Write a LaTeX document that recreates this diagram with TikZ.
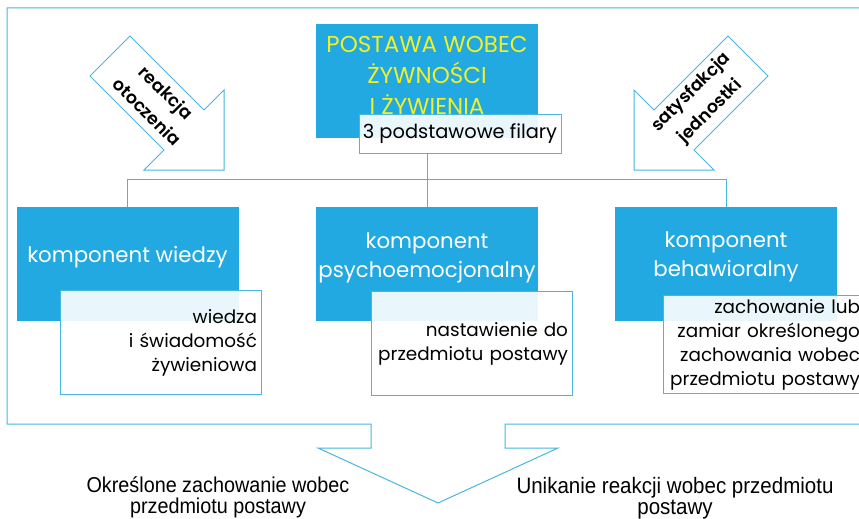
\documentclass[tikz,border=0pt]{standalone}
\usepackage{fontspec}
\setmainfont{Poppins}[BoldFont={Poppins SemiBold}]
\newfontfamily\arialfont[FakeStretch=0.92]{Liberation Sans}
\usetikzlibrary{positioning}

\definecolor{boxblue}{RGB}{34,169,225}
\definecolor{lineblue}{RGB}{72,182,222}
\definecolor{titleyellow}{RGB}{240,240,40}

\tikzset{
  frame/.style={draw=lineblue,line width=1pt},
  sidearrow/.style={draw=lineblue,line width=1pt,fill=white},
  bluebox/.style={fill=boxblue,minimum width=222pt,minimum height=114pt,inner sep=0pt},
  bluetext/.style={text=white,align=center,font=\fontsize{21.3}{29}\selectfont},
  notebox/.style={draw=lineblue,line width=1pt,fill=white,fill opacity=0.9,text opacity=1,
    text width=193pt,align=right,inner xsep=4pt,minimum height=104pt,
    font=\fontsize{18.4}{24}\selectfont},
  arrowtext/.style={align=center,font=\bfseries\fontsize{17.5}{27}\selectfont},
  outtext/.style={align=center,font=\arialfont\fontsize{21.5}{21.5}\selectfont}
}

\begin{document}
\begin{tikzpicture}[x=1pt,y=-1pt]
    \useasboundingbox (0,0) rectangle (859,519);
    % draw the outer frame with the arrow at the bottom
    \draw[frame] (875,8) -- (7,8) -- (7,424) -- (371,424) -- (371,448) -- (318,448)
        -- (438,503) -- (558,448) -- (505,448) -- (505,424) -- (875,424);
    % draw the two side arrows
    \draw[sidearrow] (130,36) -- (204,110) -- (224,90) -- (224,170) -- (144,170)
        -- (164,150) -- (90,76) -- cycle;
    \draw[sidearrow] (728,36) -- (654,110) -- (634,90) -- (634,170) -- (714,170)
        -- (694,150) -- (768,76) -- cycle;
    \node[arrowtext,rotate=-45] (reakcja) at (157,102) {reakcja\\otoczenia};
    \node[arrowtext,rotate=45] (satysfakcja) at (701,102) {satysfakcja\\jednostki};
    % the title box
    \node[bluebox] (postawa) at (427,81) {};
    \node[bluetext,text=titleyellow,font=\fontsize{23}{31}\selectfont] (postawatxt) at (427,75)
        {POSTAWA WOBEC\\ŻYWNOŚCI\\I ŻYWIENIA};
    \node[draw=lineblue,line width=1pt,fill=white,fill opacity=0.9,text opacity=1,
        minimum width=202pt,minimum height=39pt,inner sep=0pt,
        font=\fontsize{19.4}{20}\selectfont] (filary) at (460,133.5) {3 podstawowe filary};
    % the three components
    \node[bluebox] (wiedza) at (127.5,264) {};
    \node[bluebox] (psycho) at (427,264) {};
    \node[bluebox] (behaw) at (726,264) {};
    \node[bluetext] (wiedzatxt) at (127.5,257) {komponent wiedzy};
    \node[bluetext] (psychotxt) at (427,257.5) {komponent\\psychoemocjonalny};
    \node[bluetext] (behawtxt) at (726,256.5) {komponent\\behawioralny};
    \node[notebox] (wiedzanote) at (160.5,342.5) {wiedza\\i świadomość\\żywieniowa};
    \node[notebox] (psychonote) at (471.5,343.5) {nastawienie do\\przedmiotu postawy};
    \node[notebox,minimum height=95pt] (behawnote) at (763.5,344.5)
        {zachowanie lub\\zamiar określonego\\zachowania wobec\\przedmiotu postawy};
    % connect the title with the components
    \draw[frame] (postawa.south |- filary.south) -- (postawa.south |- 0,179) coordinate (hub);
    \foreach \k in {wiedza,psycho,behaw}
    \draw[frame] (hub) -| (\k.north);
    % the two outcomes
    \node[outtext] (okreslone) at (218,497.5) {Określone zachowanie wobec\\przedmiotu postawy};
    \node[outtext,font=\arialfont\fontsize{22.3}{21.5}\selectfont] (unikanie) at (675,498)
        {Unikanie reakcji wobec przedmiotu\\postawy};
\end{tikzpicture}
\end{document}
